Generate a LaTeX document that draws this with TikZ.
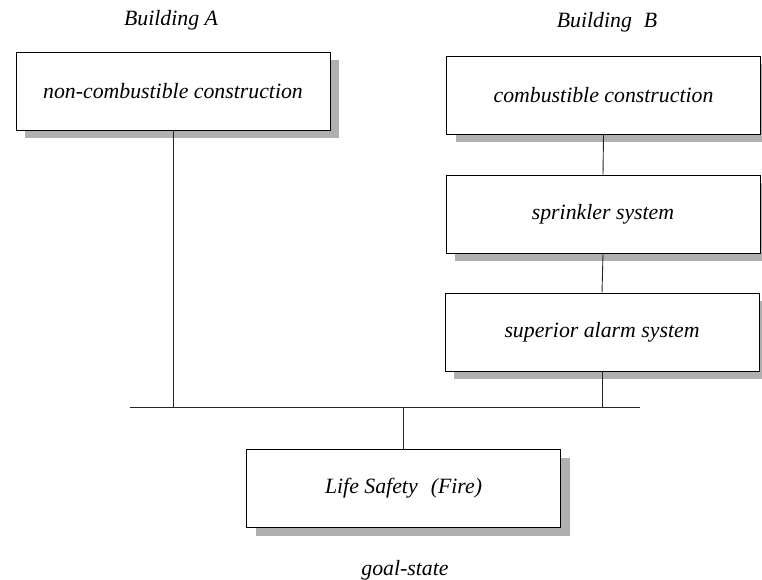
\documentclass[tikz,border=0pt]{standalone}
\usepackage{fontspec}
\setmainfont{Liberation Serif}
\usetikzlibrary{shadows}
\begin{document}
\begin{tikzpicture}[x=1pt,y=-1pt,
  txt/.style={font=\fontsize{21.8}{26}\selectfont\itshape, inner sep=0pt},
  goalbox/.style={txt, draw=black, line width=0.9pt, fill=white,
    minimum width=314pt, minimum height=78pt,
    drop shadow={shadow xshift=9pt, shadow yshift=-8pt, fill=gray!62, opacity=1}},
  link/.style={draw=black!85, line width=0.9pt}]
\useasboundingbox (0,0) rectangle (762,580);

% column headings
\node[txt] (hA) at (171,20) {Building A};
\node[txt] (hB) at (607,22) {Building\hspace{0.55em}B};

% building A
\node[goalbox] (ncc) at (173,91.5) {non-combustible construction};

% building B
\node[goalbox] (cc)  at (603.5,95)  {combustible construction};
\node[goalbox] (spr) at (603,214)   {sprinkler system};
\node[goalbox] (alm) at (602,332)   {superior alarm system};

% goal state
\node[goalbox] (life) at (403.5,488.5) {Life Safety\hspace{0.6em}(Fire)};
\node[txt] (gs) at (405,570) {goal-state};

% joining bus
\coordinate (busL) at (130,407);
\coordinate (busR) at (640,407);

\draw[link] (busL) -- (busR);
\draw[link] (ncc.south) -- (ncc.south |- busL);
\draw[link] (cc.south) -- (spr.north);
\draw[link] (spr.south) -- (alm.north);
\draw[link] (alm.south) -- (alm.south |- busL);
\draw[link] (life.north |- busL) -- (life.north);
\end{tikzpicture}
\end{document}
